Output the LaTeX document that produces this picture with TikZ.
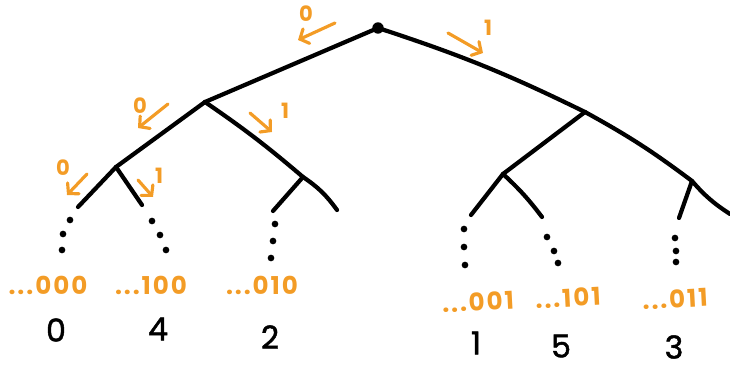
\documentclass[tikz,border=0pt]{standalone}
\usepackage{fontspec}
\setmainfont{Poppins}
\usetikzlibrary{arrows.meta}
\definecolor{hand}{RGB}{243,156,38}
\tikzset{
  branch/.style={line width=2.4pt, line cap=round, line join=round},
  bitarrow/.style={hand, line width=1.8pt, line cap=round, -{Straight Barb[length=4pt,width=9pt,line cap=round]}},
  bitlabel/.style={text=hand, font=\bfseries\fontsize{12}{12}\selectfont, inner sep=0pt},
  addr/.style={text=hand, font=\bfseries\fontsize{14}{14}\selectfont\addfontfeature{LetterSpace=8}, inner sep=0pt},
  val/.style={font=\fontsize{18}{18}\selectfont\addfontfeature{FakeBold=1.5}, inner sep=0pt},
  leafdot/.style={circle, fill, inner sep=0pt, minimum size=3.8pt}
}
\begin{document}
\begin{tikzpicture}[x=0.02cm,y=-0.02cm]
\useasboundingbox (0,0) rectangle (730,367);
% branch points
\coordinate (root) at (378,28);
\coordinate (L) at (205,102);
\coordinate (R) at (585,112);
\coordinate (LL) at (116,167);
\coordinate (LR) at (303,177);
\coordinate (RL) at (503,174);
\coordinate (RR) at (692,181);
\coordinate (lla) at (78,207);
\coordinate (llb) at (142,205);
\coordinate (lra) at (273,211);
\coordinate (lrb) at (337,210);
\coordinate (rla) at (471,215);
\coordinate (rlb) at (542,217);
\coordinate (rra) at (679,218);
\coordinate (rrb) at (730,214);
% tree
\draw[branch] (root) -- (L);
\draw[branch] (root) to[bend left=4] (R);
\draw[branch] (L) -- (LL);
\draw[branch] (L) to[bend left=3] (LR) to[bend left=10] (lrb);
\draw[branch] (LR) -- (lra);
\draw[branch] (R) -- (RL);
\draw[branch] (R) to[bend left=4] (RR) to[bend right=8] (rrb);
\draw[branch] (RR) -- (rra);
\draw[branch] (LL) -- (lla);
\draw[branch] (LL) -- (llb);
\draw[branch] (RL) -- (rla);
\draw[branch] (RL) to[bend left=5] (rlb);
\node[circle, fill, inner sep=0pt, minimum size=6.5pt] (rootdot) at (root) {};
% dots
\foreach \n/\x/\y in {a1/70/220, a2/63/234, a3/62/250,
                      b1/152/221, b2/160/235, b3/166/250,
                      c1/275/224, c2/273/241, c3/271/258,
                      d1/464/229, d2/464/247, d3/465/265,
                      e1/547/237, e2/554/251, e3/558/263,
                      f1/675/238, f2/676/251, f3/676/262}
  \node[leafdot] (\n) at (\x,\y) {};
% addresses
\node[addr] (a000) at (48,285) {...000};
\node[addr] (a100) at (151,285) {...100};
\node[addr] (a010) at (262,285) {...010};
\node[addr, rotate=3] (a001) at (478,302) {...001};
\node[addr, rotate=3] (a101) at (568,298) {...101};
\node[addr, rotate=3] (a011) at (675,299) {...011};
% values
\node[val] (v0) at (56,330) {0};
\node[val] (v4) at (158,329) {4};
\node[val] (v2) at (270,337) {2};
\node[val] (v1) at (476,343) {1};
\node[val] (v5) at (561,346) {5};
\node[val] (v3) at (674,347) {3};
% bit arrows
\coordinate (s1) at (335,23); \coordinate (t1) at (298,40);
\coordinate (s2) at (448,33); \coordinate (t2) at (483,53);
\coordinate (s3) at (168,104); \coordinate (t3) at (138,128);
\coordinate (s4) at (250,113); \coordinate (t4) at (272,132);
\coordinate (s5) at (87,174); \coordinate (t5) at (67,195);
\coordinate (s6) at (138,180); \coordinate (t6) at (153,197);
\draw[bitarrow] (s1) -- (t1);
\draw[bitarrow] (s2) -- (t2);
\draw[bitarrow] (s3) -- (t3);
\draw[bitarrow] (s4) -- (t4);
\draw[bitarrow] (s5) -- (t5);
\draw[bitarrow] (s6) -- (t6);
\node[bitlabel] (b1) at (306,14) {0};
\node[bitlabel] (b2) at (488,28) {1};
\node[bitlabel] (b3) at (140,106) {0};
\node[bitlabel] (b4) at (285,111) {1};
\node[bitlabel] (b5) at (63,168) {0};
\node[bitlabel] (b6) at (159,176) {1};
\end{tikzpicture}
\end{document}
